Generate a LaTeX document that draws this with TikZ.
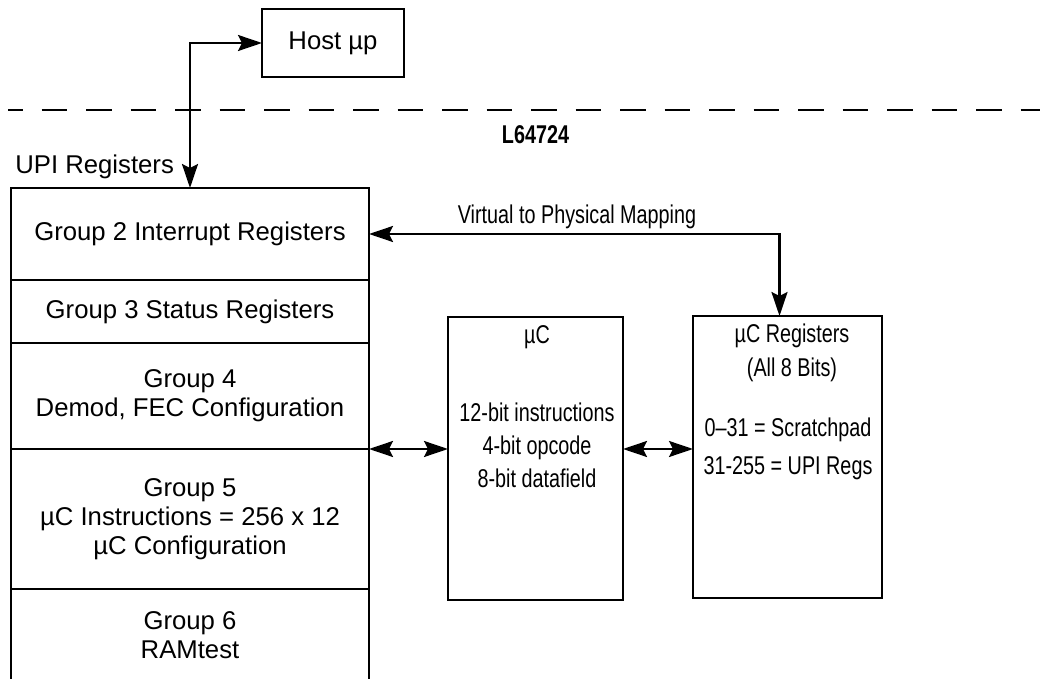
\documentclass[tikz,border=0pt]{standalone}
\usepackage{fontspec}
\setmainfont{Liberation Sans}
\newfontfamily\narrowfont[FakeStretch=0.77]{Liberation Sans}
\usetikzlibrary{arrows.meta, positioning}

\begin{document}
\begin{tikzpicture}[x=0.5pt, y=-0.5pt, line width=1.4pt,
    regbox/.style={draw, minimum width=179pt, inner sep=0pt, outer sep=0pt,
        align=center, font=\fontsize{12.85}{14.4}\selectfont},
    blockbox/.style={draw, inner sep=0pt, outer sep=0pt},
    narrowtxt/.style={font=\fontsize{12.85}{16.5}\narrowfont, align=center, inner sep=0pt},
    link/.style={line width=1.2pt,
        {Stealth[length=12pt, width=8pt, inset=2pt]}-{Stealth[length=12pt, width=8pt, inset=2pt]}}]
    \useasboundingbox (0,0) rectangle (1040,679);

    % host side
    \node[blockbox, minimum width=71pt, minimum height=34pt,
        font=\fontsize{12.85}{14.4}\selectfont] (host) at (333,43) {Host µp};
    \draw[dash pattern=on 12.75pt off 9.5pt, dash phase=5.4pt] (8,110) -- (1040,110);
    \node[font=\fontsize{12.85}{14.4}\narrowfont\bfseries, inner sep=0pt] (chip) at (535.5,135) {L64724};
    \node[anchor=west, inner sep=0pt, font=\fontsize{12.85}{14.4}\selectfont] (upi) at (14,167) {UPI Registers};

    % register stack
    \node[regbox, minimum height=46pt] (g2) at (190,234) {Group 2 Interrupt Registers};
    \node[regbox, minimum height=31.5pt, below=0pt of g2] (g3) {Group 3 Status Registers};
    \node[regbox, minimum height=53pt, below=0pt of g3] (g4) {Group 4\\Demod, FEC Configuration};
    \node[regbox, minimum height=70pt, below=0pt of g4] (g5) {Group 5\\µC Instructions = 256 x 12\\µC Configuration};
    \node[regbox, draw=none, minimum height=46pt, below=0pt of g5] (g6) {Group 6\\RAMtest};
    \draw (g6.north west) -- (g6.south west);
    \draw (g6.north east) -- (g6.south east);

    % controller and its registers
    \node[blockbox, minimum width=87.5pt, minimum height=141.5pt] (uc) at (535.5,458.5) {};
    \node[narrowtxt] (uctitle) at (537,337) {µC};
    \node[narrowtxt] (ucbody) at (537,445) {12-bit instructions\\4-bit opcode\\8-bit datafield};

    \node[blockbox, minimum width=94.5pt, minimum height=141pt] (ucreg) at (787.5,457) {};
    \node[narrowtxt, font=\fontsize{12.85}{17}\narrowfont] (regtitle) at (792,353) {µC Registers\\(All 8 Bits)};
    \node[narrowtxt, font=\fontsize{12.85}{19}\narrowfont] (regbody) at (788,449) {0–31 = Scratchpad\\31-255 = UPI Regs};

    \node[narrowtxt] (maplbl) at (577,217) {Virtual to Physical Mapping};

    % connectors
    \draw[link] (host.west) -| (g2.north);
    \draw[link] (g2.east) -| ([xshift=-4pt]ucreg.north);
    \draw[link] (g5.north east) -- (g5.north east -| uc.west);
    \draw[link] (g5.north east -| uc.east) -- (g5.north east -| ucreg.west);
\end{tikzpicture}
\end{document}
